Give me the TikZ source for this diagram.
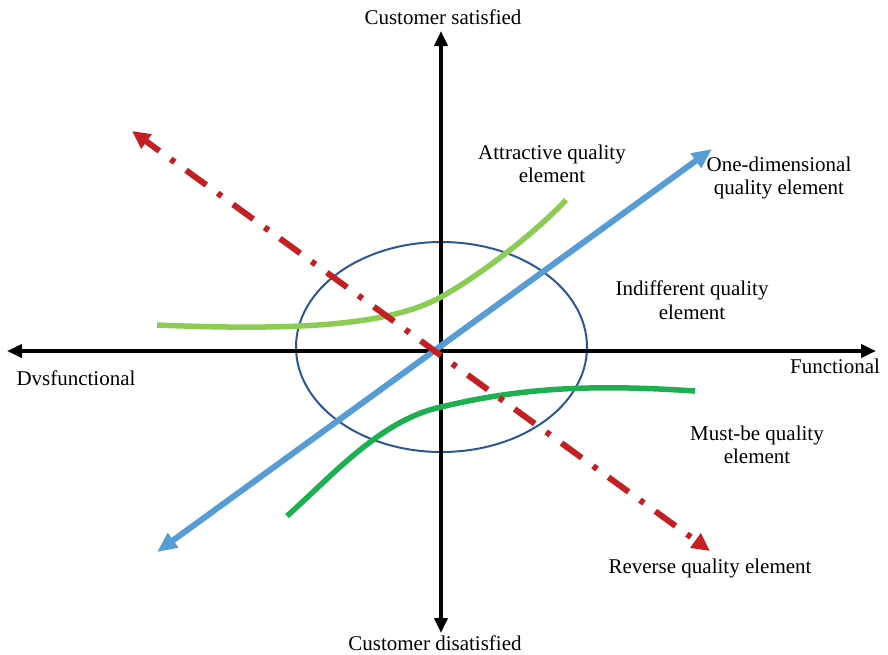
\documentclass[tikz,border=0pt]{standalone}
\usepackage{fontspec}
\setmainfont{Liberation Serif}
\usetikzlibrary{arrows.meta}
\definecolor{oneblue}{RGB}{86,157,214}
\definecolor{lgreen}{RGB}{140,204,84}
\definecolor{dgreen}{RGB}{30,176,80}
\definecolor{revred}{RGB}{196,32,36}
\definecolor{ellblue}{RGB}{44,86,150}
\begin{document}
\begin{tikzpicture}[x=1pt,y=-1pt,
  lbl/.style={align=center,inner sep=0pt,font=\fontsize{21}{23.5}\selectfont},
  axisline/.style={line width=4pt,{Triangle[length=15pt,width=13pt]}-{Triangle[length=15pt,width=13pt]}},
  onedim/.style={line width=6pt,oneblue,{Triangle[length=20pt,width=17pt]}-{Triangle[length=20pt,width=17pt]}},
  reverse/.style={line width=6pt,revred,dash pattern=on 25pt off 14pt on 5pt off 14pt,dash phase=8pt,{Triangle[length=18pt,width=17pt]}-{Triangle[length=18pt,width=17pt]}},
  curveline/.style={line width=5.5pt}]
\useasboundingbox (0,0) rectangle (888,654);
% end points
\coordinate (xl) at (7,351);
\coordinate (xr) at (876,351);
\coordinate (yt) at (441,31);
\coordinate (yb) at (441,633);
\coordinate (bl) at (157,552);
\coordinate (bt) at (712,149);
\coordinate (rt) at (132,131);
\coordinate (rb) at (710,551);
\coordinate (o) at (441.5,347);
% ellipse
\draw[ellblue,line width=2pt] (o) ellipse [x radius=145.5, y radius=105];
% axes
\draw[axisline] (xl) -- (xr);
\draw[axisline] (yb) -- (yt);
% curves
\coordinate (a0) at (157,325);
\coordinate (a1) at (441,297);
\coordinate (a2) at (566,200);
\draw[curveline,lgreen] (a0) .. controls (300,331) and (390,325) .. (a1)
  .. controls (475,278) and (530,238) .. (a2);
\coordinate (m0) at (287,516);
\coordinate (m1) at (441,407);
\coordinate (m2) at (695,391);
\draw[curveline,dgreen] (m0) .. controls (330,478) and (380,420) .. (m1)
  .. controls (520,388) and (590,384) .. (m2);
% lines
\draw[onedim] (bl) -- (bt);
\draw[reverse] (rt) -- (rb);
% labels
\node[lbl] (ls) at (443,17) {Customer satisfied};
\node[lbl] (ld) at (435,643) {Customer disatisfied};
\node[lbl] (ldys) at (76,378) {Dvsfunctional};
\node[lbl] (lf) at (835,366) {Functional};
\node[lbl] (latt) at (552,164) {Attractive quality\\element};
\node[lbl] (lone) at (779,178) {One-dimensional\\quality element};
\node[lbl] (lind) at (692,300) {Indifferent quality\\element};
\node[lbl] (lmust) at (757,445) {Must-be quality\\element};
\node[lbl] (lrev) at (710,568) {Reverse quality element};
\end{tikzpicture}
\end{document}
